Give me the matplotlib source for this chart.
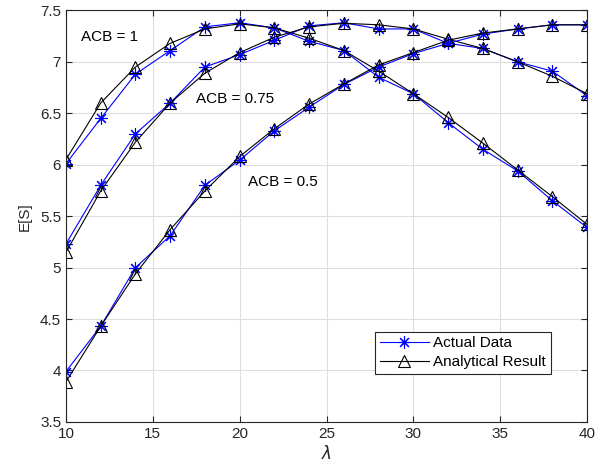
import matplotlib
matplotlib.use("Agg")
import matplotlib.pyplot as plt

plt.rcParams['font.family'] = ['Liberation Sans', 'DejaVu Sans']
plt.rcParams['mathtext.fontset'] = 'dejavusans'

lam = [10, 12, 14, 16, 18, 20, 22, 24, 26, 28, 30, 32, 34, 36, 38, 40]

acb1_actual = [6.01, 6.45, 6.88, 7.11, 7.34, 7.38, 7.33, 7.20, 7.11, 6.85, 6.69, 6.41, 6.15, 5.94, 5.65, 5.39]
acb1_analytic = [6.05, 6.60, 6.95, 7.18, 7.32, 7.37, 7.33, 7.23, 7.11, 6.91, 6.69, 6.46, 6.21, 5.95, 5.69, 5.42]

acb075_actual = [5.23, 5.80, 6.30, 6.60, 6.95, 7.07, 7.21, 7.35, 7.38, 7.32, 7.32, 7.18, 7.13, 7.00, 6.91, 6.67]
acb075_analytic = [5.15, 5.745, 6.22, 6.60, 6.89, 7.09, 7.24, 7.34, 7.375, 7.36, 7.32, 7.22, 7.13, 7.00, 6.86, 6.69]

acb05_actual = [3.99, 4.43, 5.00, 5.31, 5.80, 6.045, 6.33, 6.56, 6.78, 6.95, 7.08, 7.18, 7.27, 7.32, 7.36, 7.36]
acb05_analytic = [3.89, 4.43, 4.94, 5.37, 5.745, 6.08, 6.35, 6.59, 6.785, 6.97, 7.09, 7.21, 7.28, 7.32, 7.36, 7.36]

xticks = [10, 15, 20, 25, 30, 35, 40]
yticks = [3.5, 4, 4.5, 5, 5.5, 6, 6.5, 7, 7.5]
ytick_labels = ['3.5', '4', '4.5', '5', '5.5', '6', '6.5', '7', '7.5']

fig = plt.figure(figsize=(5.96, 4.73), dpi=100)
ax = fig.add_axes([0.1107, 0.108, 0.8743, 0.870])

blue_kw = dict(color='#0000ff', marker=(8, 2, 0), markersize=9, linewidth=0.8, markeredgewidth=0.8)
black_kw = dict(color='black', marker='^', markersize=8, linewidth=0.8, markerfacecolor='none',
                markeredgewidth=0.8)

for act, ana in [(acb1_actual, acb1_analytic), (acb075_actual, acb075_analytic), (acb05_actual, acb05_analytic)]:
    l1, = ax.plot(lam, act, **blue_kw)
    l2, = ax.plot(lam, ana, **black_kw)

ax.set_xlim(10, 40)
ax.set_ylim(3.5, 7.5)
ax.set_xticks(xticks)
ax.set_yticks(yticks)
ax.set_yticklabels(ytick_labels)
ax.grid(True, color='#dedede', linewidth=0.8)
ax.set_axisbelow(True)
ax.tick_params(direction='in', top=True, right=True, labelsize=11, colors='#262626', length=4)
for s in ax.spines.values():
    s.set_color('#262626')
    s.set_linewidth(0.8)

ax.set_xlabel(r'$\lambda$', fontsize=12, color='#262626', labelpad=2)
ax.set_ylabel('E[S]', fontsize=11, color='#262626', labelpad=6)

ax.text(10.85, 7.24, 'ACB = 1', fontsize=11, va='center')
ax.text(17.47, 6.64, 'ACB = 0.75', fontsize=11, va='center')
ax.text(20.5, 5.83, 'ACB = 0.5', fontsize=11, va='center')

leg = ax.legend([l1, l2], ['Actual Data', 'Analytical Result'], loc='upper right',
                bbox_to_anchor=(0.930, 0.219), borderaxespad=0, fancybox=False,
                edgecolor='#262626', framealpha=1, fontsize=11, handlelength=3.2,
                borderpad=0.3, labelspacing=0.3, handletextpad=0.3)
leg.get_frame().set_linewidth(0.8)

fig.savefig('out.png', dpi=100)
